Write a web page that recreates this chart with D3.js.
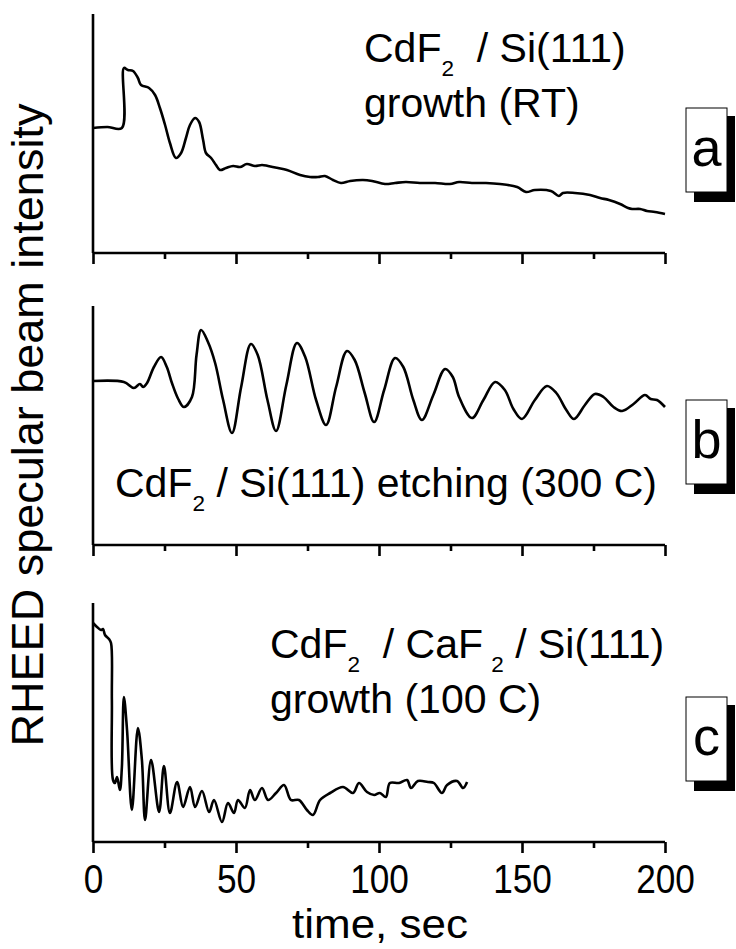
<!DOCTYPE html>
<html><head><meta charset="utf-8">
<script src="https://cdn.jsdelivr.net/npm/d3@7"></script>
<style>html,body{margin:0;padding:0;background:#fff;} text{font-family:"Liberation Sans",Arial,sans-serif;fill:#000;}</style>
</head><body>
<svg id="chart" width="736" height="949"></svg>
<script>
// ---- data (time in s, intensity in arbitrary units) ----
const timeTicks = [0, 50, 100, 150, 200];
const minorTicks = [25, 75, 125, 175];
const panelLetters = ["a", "b", "c"];
const yLabel = "RHEED specular beam intensity";
const xLabel = "time, sec";

const seriesA = [[0,125],[5,126],[10.1,125],[10.8,185],[12.2,183],[14,182],[15.7,175],[16.8,168],[19.6,165],[21.7,158],[23.4,145],[25.2,128],[26.9,110],[29,95],[30.8,100],[32.5,115],[33.9,128],[35.7,135],[37.1,131],[38.5,113],[39.5,100],[41.3,95],[43,88],[44.4,83],[46.5,85],[49,87],[51.4,86],[53.8,89],[56.6,87],[59.1,88],[61.2,87],[64.7,85],[67.8,83],[72.4,78],[75.9,76],[78.7,76],[81.1,77],[83.9,73],[86.7,70],[89.9,72],[94.4,73],[97.6,72],[102.1,69],[105.6,70],[109.4,71],[114.3,70],[119.6,70],[124.8,69],[128,71],[132.5,70],[137.4,70],[142.3,69],[148.3,66],[151.4,61],[154.5,63],[160.1,62],[162.9,57],[164.3,60],[168.5,60],[173.8,58],[177.3,55],[180.4,53],[184.3,49],[187.1,45],[188.5,44],[191.3,44],[193.7,42],[196.5,41],[200,39]];

const seriesB = [[0,164],[10.8,163],[14.3,157],[16.4,161],[17.5,158],[18.9,162],[21.3,178],[23.8,188],[25.8,178],[27.6,162],[29.8,146],[31.8,138],[34.6,148],[36.2,190],[37.8,215],[40.2,203],[42.7,182],[45.5,145],[48.6,112],[51.8,158],[55.2,201],[57.6,190],[61,145],[64.0,114],[67.6,160],[71.3,202],[74.2,188],[78,145],[81.5,120],[85,158],[88.8,194],[91.5,185],[95,152],[98.3,123],[101.8,155],[105.6,187],[108.5,178],[112,145],[115.0,125],[119,150],[123.1,176],[125.8,168],[128,148],[132.5,127],[136.5,145],[140.6,163],[144,155],[147,136],[150.0,126],[154.5,145],[158.7,159],[162,152],[165.5,135],[168.2,126],[172,140],[175.5,151],[178.5,148],[182,138],[185.0,134],[189,141],[193.0,150],[195,146],[197.2,145],[200,138]];

const seriesC = [[0,219],[1.4,215],[2.8,212],[3.5,213],[4.2,207],[5.6,203],[6.3,199],[6.6,142],[7.0,62],[7.7,59],[8.4,65],[9.4,52],[10.1,75],[10.8,145],[11.9,112],[13.6,32],[15.7,114],[17.1,82],[18.2,22],[20.3,82],[23.1,30],[24.8,76],[26.9,29],[29.4,60],[31.5,35],[33.9,55],[35.7,35],[38.1,51],[40.6,30],[42.3,42],[45.1,20],[47.2,39],[49.3,29],[50.7,42],[53.1,34],[54.9,52],[56.6,42],[59.1,54],[61.2,42],[64.0,49],[66.8,57],[69.2,42],[72.0,42],[74.8,32],[76.9,27],[79.4,42],[82.9,49],[87.4,55],[90.9,49],[93.0,59],[95.8,50],[98.3,47],[100.3,49],[102.4,45],[103.8,59],[107.0,59],[109.8,62],[111.2,54],[113.6,61],[117.1,60],[119.2,59],[122.0,49],[123.8,57],[127.3,61],[129.4,54],[130.8,60]];

const seriesList = [seriesA, seriesB, seriesC];

// ---- layout ----
const svg = d3.select("#chart");
const left = 93, right = 665;
const panelTops = [14, 306, 603];
const panelH = 239;
const x = d3.scaleLinear().domain([0, 200]).range([left, right]);
const FONT = "'Liberation Sans', Arial, sans-serif";

panelTops.forEach((top, i) => {
  const bottom = top + panelH;
  const y = d3.scaleLinear().domain([0, 239]).range([bottom, top]);
  const g = svg.append("g");

  g.append("line").attr("x1", left).attr("x2", left).attr("y1", top).attr("y2", bottom)
    .attr("stroke", "#000").attr("stroke-width", 2.6);

  const ax = d3.axisBottom(x).tickValues(timeTicks).tickSizeInner(11).tickSizeOuter(0)
    .tickFormat(i === 2 ? d3.format("d") : () => "");
  const axG = g.append("g").attr("transform", `translate(0,${bottom})`).call(ax);
  axG.select(".domain").attr("stroke", "#000").attr("stroke-width", 2.6).attr("d", `M${left},0H${right}`);
  axG.selectAll(".tick line").attr("stroke", "#000").attr("stroke-width", 2.6);
  axG.selectAll(".tick text").attr("font-size", 40).attr("font-family", FONT)
    .attr("dy", null).attr("y", 51).attr("transform", "scale(0.88,1)").attr("fill", "#000");
  const axm = d3.axisBottom(x).tickValues(minorTicks).tickSizeInner(6).tickSizeOuter(0).tickFormat(() => "");
  const axmG = g.append("g").attr("transform", `translate(0,${bottom})`).call(axm);
  axmG.select(".domain").remove();
  axmG.selectAll(".tick line").attr("stroke", "#000").attr("stroke-width", 2.6);

  const line = d3.line().x(d => x(d[0])).y(d => y(d[1])).curve(d3.curveCatmullRom.alpha(0.5));
  g.append("path").datum(seriesList[i]).attr("d", line)
    .attr("fill", "none").attr("stroke", "#000").attr("stroke-width", 2.6).attr("stroke-linejoin", "round");

  const bx = 686, bw = 41, bh = 84, bBottom = bottom - 61, bTop = bBottom - bh;
  g.append("rect").attr("x", bx + 8).attr("y", bTop + 8).attr("width", bw).attr("height", bh + 2).attr("fill", "#000");
  g.append("rect").attr("x", bx).attr("y", bTop).attr("width", bw).attr("height", bh)
    .attr("fill", "#fff").attr("stroke", "#000").attr("stroke-width", 1);
  g.append("text").attr("x", bx + bw / 2).attr("y", bBottom - 26).attr("text-anchor", "middle")
    .attr("font-size", 54).text(panelLetters[i]);
});

function labelLine(xp, yp, parts, fs) {
  const t = svg.append("text").attr("x", xp).attr("y", yp).attr("font-size", fs);
  parts.forEach(p => {
    if (p.sub) {
      t.append("tspan").attr("font-size", fs * 0.55).attr("dy", 14).text(p.sub);
      t.append("tspan").attr("dy", -14).text("\u00a0");
    } else {
      t.append("tspan").text(p.t);
    }
  });
}
labelLine(364, 62, [{t:"CdF"},{sub:"2"},{t:"\u00a0/ Si(111)"}], 41);
labelLine(364, 117, [{t:"growth (RT)"}], 41);
labelLine(115, 497, [{t:"CdF"},{sub:"2"},{t:"/ Si(111) etching (300 C)"}], 41);
labelLine(270, 658, [{t:"CdF"},{sub:"2"},{t:"\u00a0/ CaF\u2009"},{sub:"2"},{t:"/ Si(111)"}], 41);
labelLine(270, 713, [{t:"growth (100 C)"}], 41);

svg.append("text").attr("transform", "translate(380,938) scale(1.1,1)").attr("text-anchor", "middle")
  .attr("font-size", 40).text(xLabel);
svg.append("text").attr("transform", "translate(43,425) rotate(-90)").attr("text-anchor", "middle")
  .attr("font-size", 45).text(yLabel);
</script>
</body></html>
